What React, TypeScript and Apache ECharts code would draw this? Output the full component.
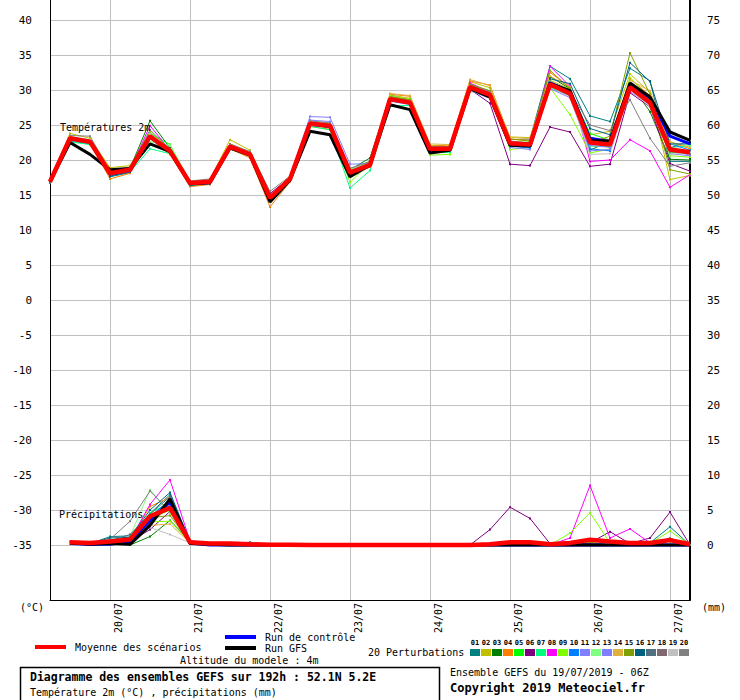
import React, { useEffect, useRef } from "react";
import * as echarts from "echarts";

const categories = [
  "19/07 06h", "19/07 12h", "19/07 18h",
  "20/07 00h", "20/07 06h", "20/07 12h", "20/07 18h",
  "21/07 00h", "21/07 06h", "21/07 12h", "21/07 18h",
  "22/07 00h", "22/07 06h", "22/07 12h", "22/07 18h",
  "23/07 00h", "23/07 06h", "23/07 12h", "23/07 18h",
  "24/07 00h", "24/07 06h", "24/07 12h", "24/07 18h",
  "25/07 00h", "25/07 06h", "25/07 12h", "25/07 18h",
  "26/07 00h", "26/07 06h", "26/07 12h", "26/07 18h",
  "27/07 00h", "27/07 06h",
];

const leftAxisLabels = [40, 35, 30, 25, 20, 15, 10, 5, 0, -5, -10, -15, -20, -25, -30, -35];
const rightAxisLabels = [75, 70, 65, 60, 55, 50, 45, 40, 35, 30, 25, 20, 15, 10, 5, 0];

// Temperatures 2m (°C)
const tempMean = [16.9, 23.1, 22.6, 18.1, 18.6, 23.4, 21.3, 16.7, 16.9, 21.9, 20.8, 14.6, 17.3, 25.2, 24.9, 18.2, 19.3, 28.7, 28.2, 21.6, 21.6, 30.4, 29.3, 22.4, 22.2, 30.8, 29.5, 22.5, 22.2, 30.4, 28.2, 21.5, 21.1];
const tempControl = [16.9, 23.1, 22.6, 18.0, 18.5, 23.3, 21.2, 16.6, 16.8, 21.8, 20.8, 14.5, 17.2, 25.1, 24.8, 18.1, 19.2, 28.6, 28.2, 21.5, 21.5, 30.3, 29.1, 22.2, 22.0, 31.0, 29.8, 23.1, 22.6, 30.6, 28.9, 23.4, 22.3];
const tempGfs = [16.9, 22.5, 20.8, 18.6, 18.8, 22.3, 21.2, 16.6, 16.8, 21.7, 20.7, 14.0, 17.1, 24.1, 23.6, 17.6, 19.3, 27.9, 27.2, 21.0, 21.4, 30.2, 29.0, 22.1, 22.0, 30.9, 29.9, 22.8, 22.7, 31.0, 29.0, 24.0, 22.8];

const tempP01 = [16.8, 22.7, 22.3, 17.6, 18.2, 23.2, 21.0, 16.3, 16.6, 21.7, 20.6, 14.4, 17.1, 25.0, 24.6, 17.9, 19.0, 28.9, 28.4, 21.9, 21.8, 30.8, 29.8, 22.9, 23.0, 33.4, 31.6, 26.3, 25.5, 33.1, 31.3, 19.8, 19.8];
const tempP02 = [17.0, 23.8, 23.1, 18.9, 19.2, 24.0, 21.6, 16.9, 17.2, 22.9, 21.4, 14.9, 17.6, 25.5, 25.1, 18.7, 19.8, 29.3, 28.8, 22.1, 22.0, 31.2, 30.3, 23.3, 23.2, 31.4, 30.1, 23.6, 24.1, 32.3, 29.6, 17.2, 17.8];
const tempP03 = [16.9, 23.3, 22.7, 18.4, 18.8, 25.6, 21.7, 16.5, 16.8, 22.0, 20.9, 14.4, 17.2, 25.3, 24.9, 18.6, 20.3, 29.1, 28.5, 21.5, 21.8, 30.6, 29.5, 22.1, 22.4, 31.9, 30.2, 21.4, 22.7, 30.9, 26.9, 20.1, 20.0];
const tempP04 = [16.7, 22.9, 22.4, 17.3, 18.1, 23.0, 20.8, 16.2, 16.5, 21.6, 20.3, 13.3, 16.9, 24.8, 24.4, 17.6, 19.0, 29.4, 29.1, 21.9, 22.2, 31.3, 30.7, 23.0, 22.8, 32.5, 30.4, 22.9, 22.4, 31.6, 29.2, 22.6, 21.6];
const tempP05 = [17.0, 23.2, 22.6, 18.2, 18.9, 23.8, 22.2, 16.8, 17.0, 22.1, 21.1, 14.7, 17.4, 25.4, 25.1, 18.4, 19.8, 29.0, 28.4, 21.4, 21.5, 30.9, 29.6, 22.6, 22.3, 31.2, 29.9, 23.8, 22.8, 30.7, 28.5, 21.0, 21.4];
const tempP06 = [16.9, 23.0, 22.5, 18.0, 18.5, 23.3, 21.2, 16.6, 16.9, 21.8, 20.7, 15.2, 17.5, 25.1, 24.7, 18.1, 19.2, 28.6, 28.1, 21.4, 21.3, 30.1, 28.1, 19.4, 19.2, 24.7, 24.0, 19.1, 19.4, 29.6, 27.6, 19.5, 18.4];
const tempP07 = [16.8, 22.6, 22.2, 17.8, 18.3, 21.6, 20.9, 16.4, 16.7, 21.6, 20.5, 14.5, 17.0, 24.8, 24.3, 16.0, 18.5, 27.7, 27.8, 21.0, 21.1, 30.0, 29.0, 22.2, 22.0, 30.3, 29.2, 22.0, 21.9, 30.1, 28.0, 21.8, 22.0];
const tempP08 = [16.9, 23.2, 22.8, 18.0, 18.6, 24.9, 21.4, 16.7, 16.9, 22.0, 20.8, 14.8, 17.3, 25.3, 25.0, 18.2, 19.3, 29.2, 28.6, 21.6, 21.8, 31.0, 29.7, 22.5, 22.1, 33.4, 30.5, 19.8, 20.0, 22.9, 21.3, 16.1, 17.9];
const tempP09 = [16.9, 23.0, 22.4, 18.4, 18.9, 23.1, 21.0, 16.5, 16.8, 21.9, 20.7, 14.3, 17.2, 25.0, 24.6, 16.8, 19.6, 29.2, 28.7, 20.7, 20.8, 29.8, 29.4, 21.5, 21.8, 30.3, 26.5, 21.0, 21.6, 31.8, 28.8, 20.6, 20.4];
const tempP10 = [16.8, 23.1, 22.5, 18.0, 18.7, 23.5, 21.2, 16.6, 16.9, 21.8, 20.7, 14.5, 17.2, 25.2, 24.8, 18.0, 19.2, 28.5, 28.0, 21.2, 21.4, 30.2, 28.9, 22.0, 21.7, 30.6, 29.2, 21.6, 21.3, 30.4, 28.4, 22.3, 21.4];
const tempP11 = [16.8, 23.0, 22.6, 18.1, 18.5, 23.3, 21.2, 16.8, 17.0, 22.2, 21.0, 14.9, 17.6, 26.2, 26.1, 19.4, 19.5, 28.8, 28.3, 21.7, 21.6, 30.5, 29.4, 22.2, 22.0, 30.7, 29.3, 22.1, 21.8, 30.2, 28.1, 21.4, 20.7];
const tempP12 = [17.1, 23.4, 22.7, 18.3, 18.7, 22.6, 22.1, 16.9, 17.1, 22.0, 20.9, 14.6, 17.4, 25.4, 25.0, 18.7, 19.5, 28.8, 28.4, 21.8, 21.7, 30.6, 29.5, 22.6, 22.6, 31.1, 29.4, 22.9, 22.7, 31.0, 28.7, 22.3, 22.1];
const tempP13 = [16.9, 22.8, 22.4, 17.9, 18.4, 23.2, 21.1, 16.7, 16.9, 21.8, 20.6, 14.4, 17.3, 25.7, 25.5, 18.5, 19.4, 28.4, 27.9, 21.3, 21.3, 29.9, 28.8, 21.8, 21.5, 30.2, 28.9, 21.3, 21.5, 29.8, 27.9, 20.9, 20.6];
const tempP14 = [16.9, 23.1, 22.7, 18.5, 19.0, 23.6, 21.4, 16.7, 17.0, 22.3, 21.1, 14.2, 17.3, 25.1, 24.7, 18.3, 19.4, 29.5, 29.2, 22.3, 22.2, 31.5, 30.6, 23.2, 23.1, 32.0, 30.4, 23.2, 22.9, 31.4, 29.9, 22.6, 21.8];
const tempP15 = [16.8, 23.0, 22.5, 18.2, 18.6, 23.4, 21.3, 16.6, 16.8, 22.0, 20.8, 14.7, 17.4, 25.3, 25.0, 18.3, 19.6, 29.0, 28.6, 21.9, 21.9, 30.8, 29.9, 23.0, 22.7, 32.8, 30.2, 22.4, 23.4, 35.3, 29.4, 18.6, 18.0];
const tempP16 = [16.8, 22.9, 22.4, 17.7, 18.3, 23.1, 21.0, 16.4, 16.6, 21.7, 20.6, 14.6, 17.2, 25.0, 24.7, 17.9, 19.1, 28.6, 28.1, 21.5, 21.5, 30.3, 29.2, 22.5, 22.3, 31.6, 30.9, 24.5, 23.6, 33.9, 31.2, 22.3, 22.3];
const tempP17 = [16.9, 23.0, 22.6, 18.0, 18.6, 23.3, 21.2, 16.5, 16.8, 21.9, 20.8, 14.5, 17.1, 25.1, 24.8, 18.0, 19.3, 28.6, 28.1, 21.5, 21.6, 30.4, 29.2, 22.3, 22.2, 30.9, 29.6, 22.4, 22.3, 30.6, 28.6, 21.7, 22.8];
const tempP18 = [16.9, 23.1, 22.5, 18.1, 18.6, 23.4, 21.3, 16.7, 16.9, 21.9, 20.8, 14.7, 17.3, 25.2, 24.9, 18.2, 19.3, 28.7, 28.2, 21.6, 21.5, 30.3, 29.2, 22.4, 22.1, 30.8, 29.5, 22.5, 22.2, 30.3, 28.3, 21.2, 20.9];
const tempP19 = [17.0, 23.3, 22.9, 18.2, 18.7, 23.7, 21.5, 16.9, 17.0, 22.1, 21.0, 14.9, 17.5, 25.5, 25.3, 18.9, 19.4, 28.9, 28.3, 21.7, 21.7, 30.5, 29.4, 22.3, 22.0, 30.5, 29.0, 20.8, 20.9, 30.0, 27.6, 20.8, 21.1];
const tempP20 = [17.1, 23.5, 23.4, 18.4, 18.9, 24.3, 21.6, 17.0, 17.3, 22.3, 21.2, 15.5, 17.7, 25.6, 25.3, 18.8, 19.8, 28.9, 28.4, 21.9, 21.9, 30.7, 29.7, 22.7, 22.4, 31.2, 29.8, 25.0, 24.2, 28.6, 23.1, 19.1, 19.6];

// Précipitations (mm / 6h)
const precipMean = [null, 0.4, 0.3, 0.5, 0.8, 4.1, 5.3, 0.4, 0.2, 0.2, 0.1, 0.05, 0.05, 0, 0, 0, 0, 0, 0, 0, 0, 0, 0.1, 0.4, 0.4, 0.1, 0.3, 0.75, 0.5, 0.3, 0.3, 0.7, 0.1];
const precipControl = [null, 0.2, 0.1, 0.1, 0.5, 3.5, 6.2, 0.3, 0, 0, 0, 0, 0, 0, 0, 0, 0, 0, 0, 0, 0, 0, 0, 0, 0, 0, 0, 0, 0, 0, 0, 0, 0];
const precipGfs = [null, 0.3, 0.1, 0.2, 0.1, 2.8, 6.6, 0.2, 0.1, 0, 0, 0, 0, 0, 0, 0, 0, 0, 0, 0, 0, 0, 0, 0, 0, 0, 0, 0, 0, 0, 0, 0, 0];

const precipP01 = [null, 0.3, 0.2, 1.2, 1.3, 4.5, 7.2, 0.5, 0.3, 0.2, 0.1, 0, 0, 0, 0, 0, 0, 0, 0, 0, 0, 0, 0, 0, 0, 0, 0, 0, 0, 0, 0.3, 2.6, 0];
const precipP02 = [null, 0.2, 0.1, 0.4, 0.8, 3.0, 5.5, 0.4, 0.2, 0.1, 0, 0, 0, 0, 0, 0, 0, 0, 0, 0, 0, 0, 0, 0, 0, 0, 0, 0.2, 0, 0, 0, 0, 0];
const precipP03 = [null, 0.3, 0, 0.2, 0, 1.2, 3.5, 0.6, 0.1, 0.1, 0, 0, 0, 0, 0, 0, 0, 0, 0, 0, 0, 0, 0, 0, 0, 0, 0, 0, 0, 0, 0, 0, 0];
const precipP04 = [null, 0.4, 0.2, 0.5, 0.9, 5.5, 6.8, 0.3, 0.2, 0.1, 0.1, 0, 0, 0, 0, 0, 0, 0, 0, 0, 0, 0, 0, 0, 0, 0, 0, 0.3, 0, 0, 0, 0, 0];
const precipP05 = [null, 0.3, 0.1, 0.3, 0.6, 3.8, 5.0, 0.4, 0.2, 0.2, 0, 0, 0, 0, 0, 0, 0, 0, 0, 0, 0, 0, 0, 0, 0, 0, 0, 0, 0, 0, 0, 0, 0];
const precipP06 = [null, 0.2, 0, 0.3, 0.5, 2.2, 4.8, 0.5, 0.2, 0.1, 0, 0, 0, 0, 0, 0, 0, 0, 0, 0, 0, 0, 2.2, 5.4, 3.8, 0.2, 0, 0.3, 1.9, 0.2, 1.0, 4.7, 0];
const precipP07 = [null, 0.3, 0.1, 0.4, 1.0, 4.6, 6.0, 0.3, 0.2, 0.1, 0, 0, 0, 0, 0, 0, 0, 0, 0, 0, 0, 0, 0, 0, 0, 0, 0, 0, 0, 0, 0, 0, 0];
const precipP08 = [null, 0.5, 0.2, 0.3, 0.7, 5.8, 9.3, 0.6, 0.3, 0.2, 0.1, 0, 0, 0, 0, 0, 0, 0, 0, 0, 0, 0, 0, 0, 0, 0, 1.0, 8.5, 1.0, 2.3, 0.3, 0, 0];
const precipP09 = [null, 0.2, 0.1, 0.2, 0.4, 3.3, 3.4, 0.4, 0.2, 0.1, 0, 0, 0, 0, 0, 0, 0, 0, 0, 0, 0, 0, 0, 0, 0, 0, 1.7, 4.6, 0.3, 0, 0.2, 2.0, 0];
const precipP10 = [null, 0.3, 0.1, 0.3, 0.8, 4.0, 6.5, 0.4, 0.2, 0.1, 0, 0, 0, 0, 0, 0, 0, 0, 0, 0, 0, 0, 0, 0, 0, 0, 0, 0, 0, 0, 0, 0, 0];
const precipP11 = [null, 0.2, 0.1, 0.4, 0.9, 3.6, 5.2, 0.3, 0.2, 0.1, 0, 0, 0, 0, 0, 0, 0, 0, 0, 0, 0, 0, 0, 0, 0, 0, 0, 0, 0, 0, 0, 0, 0];
const precipP12 = [null, 0.3, 0.2, 0.6, 1.2, 7.9, 4.5, 0.5, 0.2, 0.1, 0, 0, 0, 0, 0, 0, 0, 0, 0, 0, 0, 0, 0, 0, 0, 0, 0, 0, 0, 0, 0, 0, 0];
const precipP13 = [null, 0.2, 0.1, 0.3, 0.7, 4.2, 5.6, 0.4, 0.2, 0.1, 0, 0, 0, 0, 0, 0, 0, 0, 0, 0, 0, 0, 0, 0, 0, 0, 0, 0, 0, 0, 0, 0, 0];
const precipP14 = [null, 0.3, 0.1, 0.2, 0.5, 2.8, 3.0, 0.3, 0.1, 0.1, 0, 0, 0, 0, 0, 0, 0, 0, 0, 0, 0, 0, 0, 0, 0, 0, 0, 0, 0, 0, 0, 0, 0];
const precipP15 = [null, 0.2, 0.1, 0.3, 0.6, 3.9, 4.2, 0.4, 0.2, 0.1, 0, 0, 0, 0, 0, 0, 0, 0, 0, 0, 0, 0, 0, 0, 0, 0, 0, 0.4, 0, 0, 0, 0.5, 0];
const precipP16 = [null, 0.3, 0.2, 1.0, 1.1, 5.0, 7.5, 0.5, 0.3, 0.2, 0.1, 0, 0, 0, 0, 0, 0, 0, 0, 0, 0, 0, 0, 0, 0, 0, 0, 0, 0, 0, 0, 0.6, 0];
const precipP17 = [null, 0.3, 0.2, 0.6, 1.5, 4.4, 6.9, 0.4, 0.2, 0.2, 0.4, 0, 0, 0, 0, 0, 0, 0, 0, 0, 0, 0, 0, 0, 0, 0, 0, 0, 0, 0, 0, 0, 0];
const precipP18 = [null, 0.2, 0.1, 0.3, 0.6, 3.1, 5.9, 0.4, 0.2, 0.1, 0, 0, 0, 0, 0, 0, 0, 0, 0, 0, 0, 0, 0, 0, 0, 0, 0, 0, 0, 0, 0, 0, 0];
const precipP19 = [null, 0.2, 0.1, 0.2, 0.4, 2.5, 1.5, 0.3, 0.1, 0.1, 0, 0, 0, 0, 0, 0, 0, 0, 0, 0, 0, 0, 0, 0, 0, 0, 0, 0, 0, 0, 0, 0, 0];
const precipP20 = [null, 0.4, 0.2, 0.8, 3.4, 7.7, 4.8, 0.5, 0.3, 0.2, 0.1, 0, 0, 0, 0, 0, 0, 0, 0, 0, 0, 0, 0, 0, 0, 0, 0, 0, 0.5, 0, 0, 1.0, 0];

const perturbationLabels = ["01", "02", "03", "04", "05", "06", "07", "08", "09", "10", "11", "12", "13", "14", "15", "16", "17", "18", "19", "20"];
const perturbationColors = ["#008080", "#c0c000", "#008000", "#ff8000", "#00ff00", "#800080", "#00ff80", "#ff00ff", "#80ff00", "#0080ff", "#8080ff", "#80ff80", "#8080ff", "#e0b040", "#80a000", "#006080", "#507080", "#806870", "#c0c0c0", "#808080"];

const perturbationTemps = [tempP01, tempP02, tempP03, tempP04, tempP05, tempP06, tempP07, tempP08, tempP09, tempP10, tempP11, tempP12, tempP13, tempP14, tempP15, tempP16, tempP17, tempP18, tempP19, tempP20];
const perturbationPrecips = [precipP01, precipP02, precipP03, precipP04, precipP05, precipP06, precipP07, precipP08, precipP09, precipP10, precipP11, precipP12, precipP13, precipP14, precipP15, precipP16, precipP17, precipP18, precipP19, precipP20];

const MONO = '"DejaVu Sans Mono", "Liberation Mono", monospace';

function txt(text: string, x: number, y: number, size = 10, weight: string = "normal", extra: any = {}) {
  return {
    type: "text",
    x,
    y,
    z: 10,
    silent: true,
    style: {
      text,
      fill: "#000000",
      fontFamily: MONO,
      fontSize: size,
      fontWeight: weight,
      verticalAlign: "middle",
      align: "left",
      ...extra,
    },
  };
}

export default function App() {
  const ref = useRef<HTMLDivElement>(null);

  useEffect(() => {
    if (!ref.current) return;
    const chart = echarts.init(ref.current, undefined, { renderer: "svg" });
    const dayTick = (_i: number, v: string) => v.endsWith("00h");

    const series: any[] = [];
    perturbationTemps.forEach((d, k) => {
      series.push({
        type: "line",
        name: "P" + perturbationLabels[k] + " T",
        data: d,
        yAxisIndex: 0,
        symbol: "rect",
        symbolSize: 2,
        showSymbol: true,
        lineStyle: { color: perturbationColors[k], width: 1 },
        itemStyle: { color: perturbationColors[k] },
        z: 2,
      });
    });
    perturbationPrecips.forEach((d, k) => {
      series.push({
        type: "line",
        name: "P" + perturbationLabels[k] + " RR",
        data: d,
        yAxisIndex: 1,
        symbol: "rect",
        symbolSize: 2,
        showSymbol: true,
        lineStyle: { color: perturbationColors[k], width: 1 },
        itemStyle: { color: perturbationColors[k] },
        z: 2,
      });
    });
    const main = [
      { name: "Run de contrôle", t: tempControl, p: precipControl, color: "#0000ff", width: 3, z: 3 },
      { name: "Run GFS", t: tempGfs, p: precipGfs, color: "#000000", width: 3, z: 4 },
      { name: "Moyenne des scénarios", t: tempMean, p: precipMean, color: "#ff0000", width: 4.5, z: 5 },
    ];
    main.forEach((m) => {
      series.push({
        type: "line", name: m.name + " T", data: m.t, yAxisIndex: 0, showSymbol: false,
        lineStyle: { color: m.color, width: m.width }, itemStyle: { color: m.color }, z: m.z,
      });
      series.push({
        type: "line", name: m.name + " RR", data: m.p, yAxisIndex: 1, showSymbol: false,
        lineStyle: { color: m.color, width: m.width }, itemStyle: { color: m.color }, z: m.z,
      });
    });

    const graphic: any[] = [
      txt("Températures 2m", 60, 127),
      txt("Précipitations", 59, 514),
      txt("(°C)", 20, 607),
      txt("(mm)", 702, 607),
      { type: "line", silent: true, shape: { x1: 35, y1: 647, x2: 66, y2: 647 }, style: { stroke: "#ff0000", lineWidth: 4 } },
      txt("Moyenne des scénarios", 75, 647),
      { type: "line", silent: true, shape: { x1: 225, y1: 637, x2: 256, y2: 637 }, style: { stroke: "#0000ff", lineWidth: 4 } },
      txt("Run de contrôle", 265, 637),
      { type: "line", silent: true, shape: { x1: 225, y1: 648, x2: 256, y2: 648 }, style: { stroke: "#000000", lineWidth: 4 } },
      txt("Run GFS", 265, 648),
      txt("Altitude du modele : 4m", 180, 660),
      { type: "rect", silent: true, shape: { x: 20.5, y: 667.5, width: 419, height: 40 }, style: { fill: "none", stroke: "#000", lineWidth: 1.5 } },
      txt("Diagramme des ensembles GEFS sur 192h : 52.1N 5.2E", 30, 677, 11.5, "bold"),
      txt("Température 2m (°C) , précipitations (mm)", 30, 692),
      txt("20 Perturbations", 368, 652),
      txt("Ensemble GEFS du 19/07/2019 - 06Z", 450, 672),
      txt("Copyright 2019 Meteociel.fr", 450, 688, 12, "bold"),
    ];
    perturbationColors.forEach((c, k) => {
      graphic.push({ type: "rect", silent: true, shape: { x: 470 + 11 * k, y: 649, width: 10, height: 7 }, style: { fill: c } });
      graphic.push(txt(perturbationLabels[k], 475 + 11 * k, 643, 7, "bold", { align: "center" }));
    });

    chart.setOption({
      animation: false,
      backgroundColor: "#ffffff",
      grid: { left: 50, right: 50, top: 0, bottom: 100, containLabel: false },
      xAxis: {
        type: "category",
        data: categories,
        boundaryGap: false,
        axisLine: { show: true, onZero: false, lineStyle: { color: "#000", width: 1 } },
        axisTick: { show: false },
        axisLabel: {
          interval: dayTick,
          rotate: 90,
          margin: 3,
          verticalAlign: "top",
          formatter: (v: string) => v.slice(0, 5),
          fontFamily: MONO,
          fontSize: 10,
          color: "#000",
          padding: [3, 0, 0, 0],
        },
        splitLine: { show: true, interval: dayTick, lineStyle: { color: "#c0c0c0", width: 1 } },
      },
      yAxis: [
        {
          type: "value",
          position: "left",
          min: -300 / 7,
          max: 300 / 7,
          axisLine: { show: true, onZero: false, lineStyle: { color: "#000", width: 1 } },
          axisTick: { show: false, customValues: leftAxisLabels },
          axisLabel: {
            customValues: leftAxisLabels,
            margin: 18,
            fontFamily: MONO,
            fontSize: 11,
            color: "#000",
            padding: [5, 0, 0, 0],
          },
          splitLine: { show: true, lineStyle: { color: "#c0c0c0", width: 1 } },
        },
        {
          type: "value",
          position: "right",
          min: 35 - 300 / 7,
          max: 35 + 300 / 7,
          axisLine: { show: true, onZero: false, lineStyle: { color: "#000", width: 2 } },
          axisTick: { show: false, customValues: rightAxisLabels },
          axisLabel: {
            customValues: rightAxisLabels,
            margin: 17,
            fontFamily: MONO,
            fontSize: 11,
            color: "#000",
            padding: [5, 0, 0, 0],
          },
          splitLine: { show: false },
        },
      ],
      graphic,
      series,
    });

    return () => chart.dispose();
  }, []);

  return (
    <div
      ref={ref}
      style={{ position: "absolute", left: 0, top: 0, width: 740, height: 700, background: "#fff" }}
    />
  );
}
